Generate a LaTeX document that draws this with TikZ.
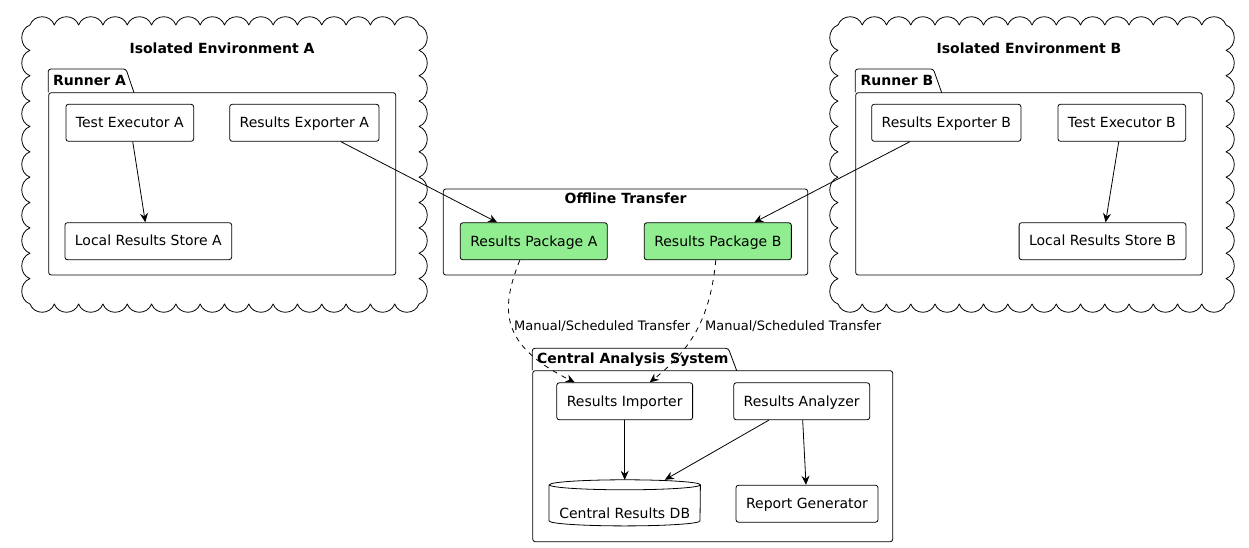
\documentclass[tikz,border=0pt]{standalone}
\usepackage{fontspec}
\setmainfont{DejaVu Sans}
\usetikzlibrary{arrows.meta}
\definecolor{pkggreen}{HTML}{90EE90}

\begin{document}
\begin{tikzpicture}[x=1pt,y=-1pt,
    every node/.style={font=\fontsize{14}{16}\selectfont},
    comp/.style={draw,rounded corners=2.5pt,fill=white,line width=0.8pt,
        minimum height=37pt,inner xsep=10pt,text height=10pt,text depth=0.5pt},
    dbnode/.style={minimum width=151pt,minimum height=45.7pt,inner ysep=0pt,
        text height=35pt,text depth=4.7pt},
    frame/.style={draw,rounded corners=2.5pt,line width=0.8pt,inner sep=0pt},
    tabline/.style={draw,rounded corners=2.5pt,line width=0.8pt},
    title/.style={font=\fontsize{14}{16}\selectfont\bfseries,inner sep=0pt},
    cloudline/.style={line width=0.8pt,line join=round},
    arr/.style={-{Stealth[length=9pt,width=8pt,inset=3pt]},line width=0.8pt},
    transfer/.style={arr,dash pattern=on 5pt off 5pt},
    lbl/.style={font=\fontsize{13}{15}\selectfont,anchor=west,inner sep=0pt}]
    \useasboundingbox (0,0) rectangle (1249,548);

    % isolated environments
    \foreach \cx/\cw in {30/24.3125,838/24.25} {
        \draw[cloudline] (\cx,25)
            foreach \i in {1,...,16} { .. controls +(4,-11) and +(-4,-11) .. ++(\cw,0) }
            foreach \i in {1,...,11} { .. controls +(11,4) and +(11,-4) .. ++(0,25.3636) }
            foreach \i in {1,...,16} { .. controls +(-4,11) and +(4,11) .. ++(-\cw,0) }
            foreach \i in {1,...,11} { .. controls +(-11,-4) and +(-11,4) .. ++(0,-25.3636) };
    }
    \node[title] (envA) at (222,48) {Isolated Environment A};
    \node[title] (envB) at (1029,48) {Isolated Environment B};

    % packages
    \node[frame,minimum width=347pt,minimum height=182.3pt] (runA) at (222.2,183.85) {};
    \draw[tabline] (runA.north west) |- (126,69) -- (134,92.7);
    \node[title,anchor=west] (runAt) at (53,80.5) {Runner A};
    \node[frame,minimum width=346.6pt,minimum height=182.3pt] (runB) at (1029,183.85) {};
    \draw[tabline] (runB.north west) |- (933.3,69) -- (941.7,92.7);
    \node[title,anchor=west] (runBt) at (860.5,80.5) {Runner B};
    \node[frame,minimum width=364.4pt,minimum height=86pt] (off) at (625.5,232) {};
    \node[title] (offt) at (625.5,198) {Offline Transfer};
    \node[frame,minimum width=360pt,minimum height=171pt] (cas) at (712.7,456.2) {};
    \draw[tabline] (cas.north west) |- (728.3,348.3) -- (736.7,370.7);
    \node[title,anchor=west] (cast) at (537,360) {Central Analysis System};

    % components
    \node[comp] (teA) at (129.8,122.8) {Test Executor A};
    \node[comp] (reA) at (304.3,122.8) {Results Exporter A};
    \node[comp] (lrsA) at (148.3,241.2) {Local Results Store A};
    \node[comp,fill=pkggreen] (rpA) at (533.8,241.3) {Results Package A};
    \node[comp,fill=pkggreen] (rpB) at (717.8,241.3) {Results Package B};
    \node[comp] (reB) at (946.3,122.8) {Results Exporter B};
    \node[comp] (teB) at (1121.8,122.8) {Test Executor B};
    \node[comp] (lrsB) at (1102.5,241.2) {Local Results Store B};
    \node[comp] (ri) at (624.7,401.3) {Results Importer};
    \node[comp] (ra) at (801.7,401.3) {Results Analyzer};
    \node[comp] (rg) at (807,503.7) {Report Generator};
    \node[dbnode] (db) at (624.7,502.85) {Central Results DB};
    \draw[line width=0.8pt] ([yshift=-5pt]db.north west) -- ([yshift=5pt]db.south west)
        arc[start angle=180,end angle=360,x radius=75.5pt,y radius=5pt]
        -- ([yshift=-5pt]db.north east)
        arc[start angle=0,end angle=180,x radius=75.5pt,y radius=5pt]
        arc[start angle=180,end angle=360,x radius=75.5pt,y radius=5pt];

    % connectors
    \draw[arr] (teA) -- (lrsA);
    \draw[arr] (reA) -- (rpA);
    \draw[arr] (teB) -- (lrsB);
    \draw[arr] (reB) -- (rpB);
    \draw[transfer] ([xshift=-14pt]rpA.south) .. controls (500,310) and (500,345) .. ([xshift=-50pt]ri.north)
        node[lbl,pos=0.5,xshift=2pt] {Manual/Scheduled Transfer};
    \draw[transfer] ([xshift=-2pt]rpB.south) .. controls (710,320) and (690,350) .. ([xshift=25pt]ri.north)
        node[lbl,pos=0.45,xshift=6pt] {Manual/Scheduled Transfer};
    \draw[arr] (ri) -- (db);
    \draw[arr] (ra) -- (db);
    \draw[arr] (ra) -- (rg);
\end{tikzpicture}
\end{document}
